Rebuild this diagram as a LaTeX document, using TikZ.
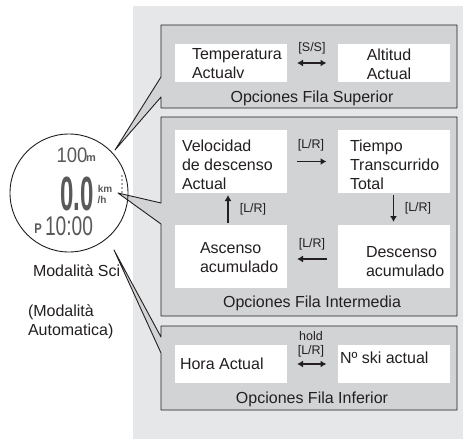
\documentclass[tikz,border=0pt]{standalone}
\usepackage{fontspec}
\usepackage{graphicx}
\setmainfont{Liberation Sans}
\usetikzlibrary{arrows.meta}

\definecolor{panelbg}{HTML}{E6E7E8}
\definecolor{groupfill}{HTML}{D1D3D4}
\definecolor{ink}{HTML}{231F20}
\definecolor{lcd}{HTML}{58595B}

\begin{document}
\begin{tikzpicture}[x=1pt,y=-1pt,
  every node/.style={text=ink, inner sep=0pt, outer sep=0pt},
  group/.style={fill=groupfill, draw=ink, line width=0.9pt, line join=round},
  optbox/.style={fill=white, minimum width=112pt},
  rowbox/.style={optbox, minimum height=38pt},
  tallbox/.style={optbox, minimum height=63pt},
  body/.style={font=\fontsize{16}{19}\selectfont, align=left},
  title/.style={font=\fontsize{16}{18}\selectfont},
  keylbl/.style={font=\fontsize{12.5}{14}\selectfont, align=center},
  flow/.style={draw=ink, line width=1.8pt, -{Latex[length=6pt,width=7pt]}},
  swap/.style={draw=ink, line width=1.8pt, {Latex[length=6pt,width=7pt]}-{Latex[length=6pt,width=7pt]}},
  lcdtxt/.style={text=lcd, anchor=base, text depth=0pt},
]
\useasboundingbox (0,0) rectangle (463,439);

% light backdrop behind the option groups
\fill[panelbg] (133,6) rectangle (463,439);

% option groups, each with its callout wedge pointing at the watch face
\draw[group] (161,25) -- (457,25) -- (457,108) -- (161,108) -- (161,97)
  -- (115,150) -- (161,77) -- cycle;
\draw[group] (161,117) -- (457,117) -- (457,316) -- (161,316) -- (161,224)
  -- (118,193) -- (161,203) -- cycle;
\draw[group] (161,326) -- (457,326) -- (457,410) -- (161,410) -- (161,353)
  -- (114,250) -- (161,337) -- cycle;

% watch face
\node[draw=ink, circle, line width=0.9pt, minimum size=118pt] (face) at (69,193) {};
\node[lcdtxt, text height=15pt, font=\fontsize{21}{21}\selectfont] (alt) at (72,162) {\scalebox{0.88}[1]{100}};
\node[lcdtxt, text height=6pt, font=\fontsize{11}{11}\selectfont\bfseries] (altunit) at (91,161) {m};
\node[lcdtxt, text height=34pt, font=\fontsize{48}{48}\selectfont\bfseries] (speed) at (77,210) {\scalebox{0.5}[1]{0.0}};
\node[lcdtxt, text height=7pt, font=\fontsize{10}{10}\selectfont\bfseries] (kmunit) at (105,192) {km};
\node[lcdtxt, text height=7pt, font=\fontsize{10}{10}\selectfont\bfseries] (hunit) at (102,203) {/h};
\foreach \yy in {176,180,184,188,192} \fill[lcd] (122,\yy) circle (0.8);
\node[lcdtxt, text height=10pt, font=\fontsize{14}{14}\selectfont\bfseries] (pm) at (38,233) {\scalebox{0.8}[1]{P}};
\node[lcdtxt, text height=19pt, font=\fontsize{27}{27}\selectfont] (clock) at (69,235) {\scalebox{0.71}[1]{10:00}};

% mode labels
\node[body, anchor=west] (mode) at (33,271) {Modalità Sci};
\node[body, anchor=west] (auto) at (28,322) {(Modalità\\Automatica)};

% upper row options
\node[rowbox] (t1) at (231,63) {};
\node[rowbox] (t2) at (393.5,63) {};
\node[body, anchor=west] at (192,64) {Temperatura\\Actualv};
\node[body, align=center] at (389,64) {Altitud\\Actual};
\draw[swap, shorten <=10pt, shorten >=11pt] (t1.east) -- (t2.west);
\node[keylbl] at (312,48) {{[S/S]}};
\node[title] at (312,98) {Opciones Fila Superior};

% middle row options
\node[tallbox] (m1) at (231,161.5) {};
\node[tallbox] (m2) at (393.5,161.5) {};
\node[tallbox] (m3) at (231,256.5) {};
\node[tallbox] (m4) at (393.5,256.5) {};
\node[body, anchor=west] at (182,165) {Velocidad\\de descenso\\Actual};
\node[body, anchor=west] at (350,165) {Tiempo\\Transcurrido\\Total};
\node[body, anchor=west] at (200,258) {Ascenso\\acumulado};
\node[body, anchor=west] at (366,262) {Descenso\\acumulado};
\draw[flow, shorten <=10pt, shorten >=11pt] (m1.east) -- (m2.west);
\draw[flow, shorten <=2pt, shorten >=3pt] (m2.south) -- (m4.north);
\draw[flow, shorten <=11pt, shorten >=10pt] ([yshift=-2.5pt]m4.west) -- ([yshift=-2.5pt]m3.east);
\draw[flow, shorten <=2pt, shorten >=2pt] ([xshift=-3pt]m3.north) -- ([xshift=-3pt]m1.south);
\node[keylbl] at (311,145) {{[L/R]}};
\node[keylbl] at (418,208) {{[L/R]}};
\node[keylbl] at (253,209) {{[L/R]}};
\node[keylbl] at (312,244) {{[L/R]}};
\node[title] at (312,303) {Opciones Fila Intermedia};

% lower row options
\node[rowbox] (b1) at (231,364) {};
\node[rowbox] (b2) at (393.5,364) {};
\node[body, anchor=west] at (180,364) {Hora Actual};
\node[body, anchor=west] at (340,358) {Nº ski actual};
\draw[swap, shorten <=10pt, shorten >=11pt] (b1.east) -- (b2.west);
\node[keylbl] at (311,344.5) {hold\\{}{[L/R]}};
\node[title] at (312,399) {Opciones Fila Inferior};
\end{tikzpicture}
\end{document}
